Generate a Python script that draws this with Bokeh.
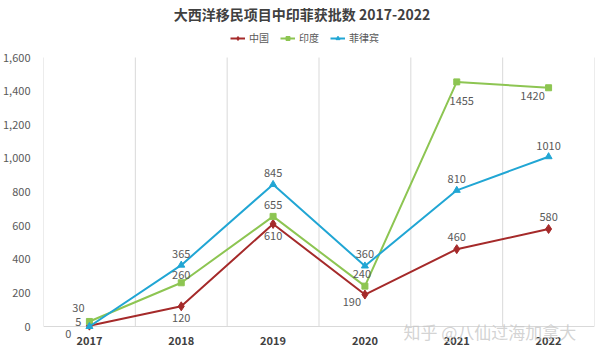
from bokeh.plotting import figure
from bokeh.models import (ColumnDataSource, FixedTicker, NumeralTickFormatter, Range1d,
                          Legend, LegendItem, LabelSet, Label)
from bokeh.core.properties import value
from bokeh.embed import file_html
from bokeh.resources import INLINE

years = ["2017", "2018", "2019", "2020", "2021", "2022"]
china = [5, 120, 610, 190, 460, 580]
india = [30, 260, 655, 240, 1455, 1420]
philippines = [0, 365, 845, 360, 810, 1010]
y_ticks = [0, 200, 400, 600, 800, 1000, 1200, 1400, 1600]
title_text = "大西洋移民项目中印菲获批数 2017-2022"
watermark = "知乎 @八仙过海加拿大"

# label offsets (screen px) – styling only
china_dx = [-11, 0, 0, -13, 0, 0]
china_dy = [4, -12, -12, -7, 12, 12]
india_dx = [-11, 0, 0, -3, 5, -16]
india_dy = [13, 8, 11, 12, -19, -8]
phil_dx = [-21, 0, 0, 0, 0, 0]
phil_dy = [-7, 11, 11, 12, 11, 11]

FONT = "Noto Sans CJK SC"
RED = "#A52A2A"
GREEN = "#8DC552"
BLUE = "#21A6D4"
GRID = "#d9d9d9"

xs = list(range(len(years)))
y_max = y_ticks[-1]
# plot area: 0 sits 326 px from the top, 1600 sits 57 px from the top, canvas 354 px tall
k = y_max / (326 - 57)
y_start = -(354 - 326) * k
y_end = 326 * k

p = figure(width=600, height=354, output_backend="svg", toolbar_location=None,
           x_range=Range1d(-0.5, len(years) - 0.5), y_range=Range1d(y_start, y_end),
           min_border_left=37, min_border_right=6, min_border_top=0, min_border_bottom=0)
p.outline_line_color = None
p.background_fill_color = "white"
p.border_fill_color = "white"
p.xaxis.visible = False

p.yaxis.ticker = FixedTicker(ticks=y_ticks)
p.yaxis.formatter = NumeralTickFormatter(format="0,0")
p.yaxis.axis_line_color = None
p.yaxis.major_tick_line_color = None
p.yaxis.minor_tick_line_color = None
p.yaxis.major_label_text_font = FONT
p.yaxis.major_label_text_font_size = "11px"
p.yaxis.major_label_text_color = "#595959"
p.yaxis.major_label_standoff = 7

p.xgrid.grid_line_color = None
p.ygrid.grid_line_color = None
bounds = [i - 0.5 for i in range(len(years) + 1)]
p.segment(x0=bounds, y0=[0] * len(bounds), x1=bounds, y1=[y_max] * len(bounds),
          line_color=GRID, line_width=1)
p.segment(x0=[bounds[0]], y0=[0], x1=[bounds[-1]], y1=[0], line_color=GRID, line_width=1)

# category (year) labels
ysrc = ColumnDataSource(dict(x=xs, y=[0] * len(xs), t=years))
p.add_layout(LabelSet(x="x", y="y", text="t", source=ysrc, y_offset=-14,
                      text_align="center", text_baseline="middle",
                      text_font=value(FONT), text_font_size="11px", text_font_style="bold",
                      text_color="#404040"))

series = [
    ("中国", china, RED, "diamond", 9, china_dx, china_dy),
    ("印度", india, GREEN, "square", 6, india_dx, india_dy),
    ("菲律宾", philippines, BLUE, "triangle", 7, phil_dx, phil_dy),
]
items = []
for name, vals, col, mk, sz, dx, dy in series:
    src = ColumnDataSource(dict(x=xs, y=vals, lab=[str(v) for v in vals], dx=dx, dy=dy))
    ln = p.line("x", "y", source=src, line_color=col, line_width=2)
    sc = p.scatter("x", "y", source=src, marker=mk, size=sz, fill_color=col, line_color=col)
    items.append(LegendItem(label=name, renderers=[ln, sc]))
    p.add_layout(LabelSet(x="x", y="y", text="lab", source=src, x_offset="dx", y_offset="dy",
                          text_align="center", text_baseline="middle",
                          text_font=value(FONT), text_font_size="11px", text_color="#595959"))

legend = Legend(items=items, orientation="horizontal", location=(187, 309),
                label_text_font=FONT, label_text_font_size="10px", label_text_color="#595959",
                glyph_width=15, glyph_height=10, spacing=11, label_standoff=4,
                background_fill_alpha=0, border_line_color=None, padding=0, margin=0)
p.add_layout(legend)

# title
p.add_layout(Label(x=(len(years) - 1) / 2, y=y_max, x_offset=-17, y_offset=44, text=title_text,
                   text_align="center", text_baseline="middle",
                   text_font=FONT, text_font_size="14px", text_font_style="bold",
                   text_color="#404040"))

p.add_layout(Label(x=len(years) - 0.6, y=0, x_offset=-9, y_offset=-17, text=watermark,
                   text_align="right", text_baseline="bottom",
                   text_font=FONT, text_font_size="17px", text_color="#c8c8c8", text_alpha=0.8))

open("out.html", "w").write(file_html(p, INLINE))
